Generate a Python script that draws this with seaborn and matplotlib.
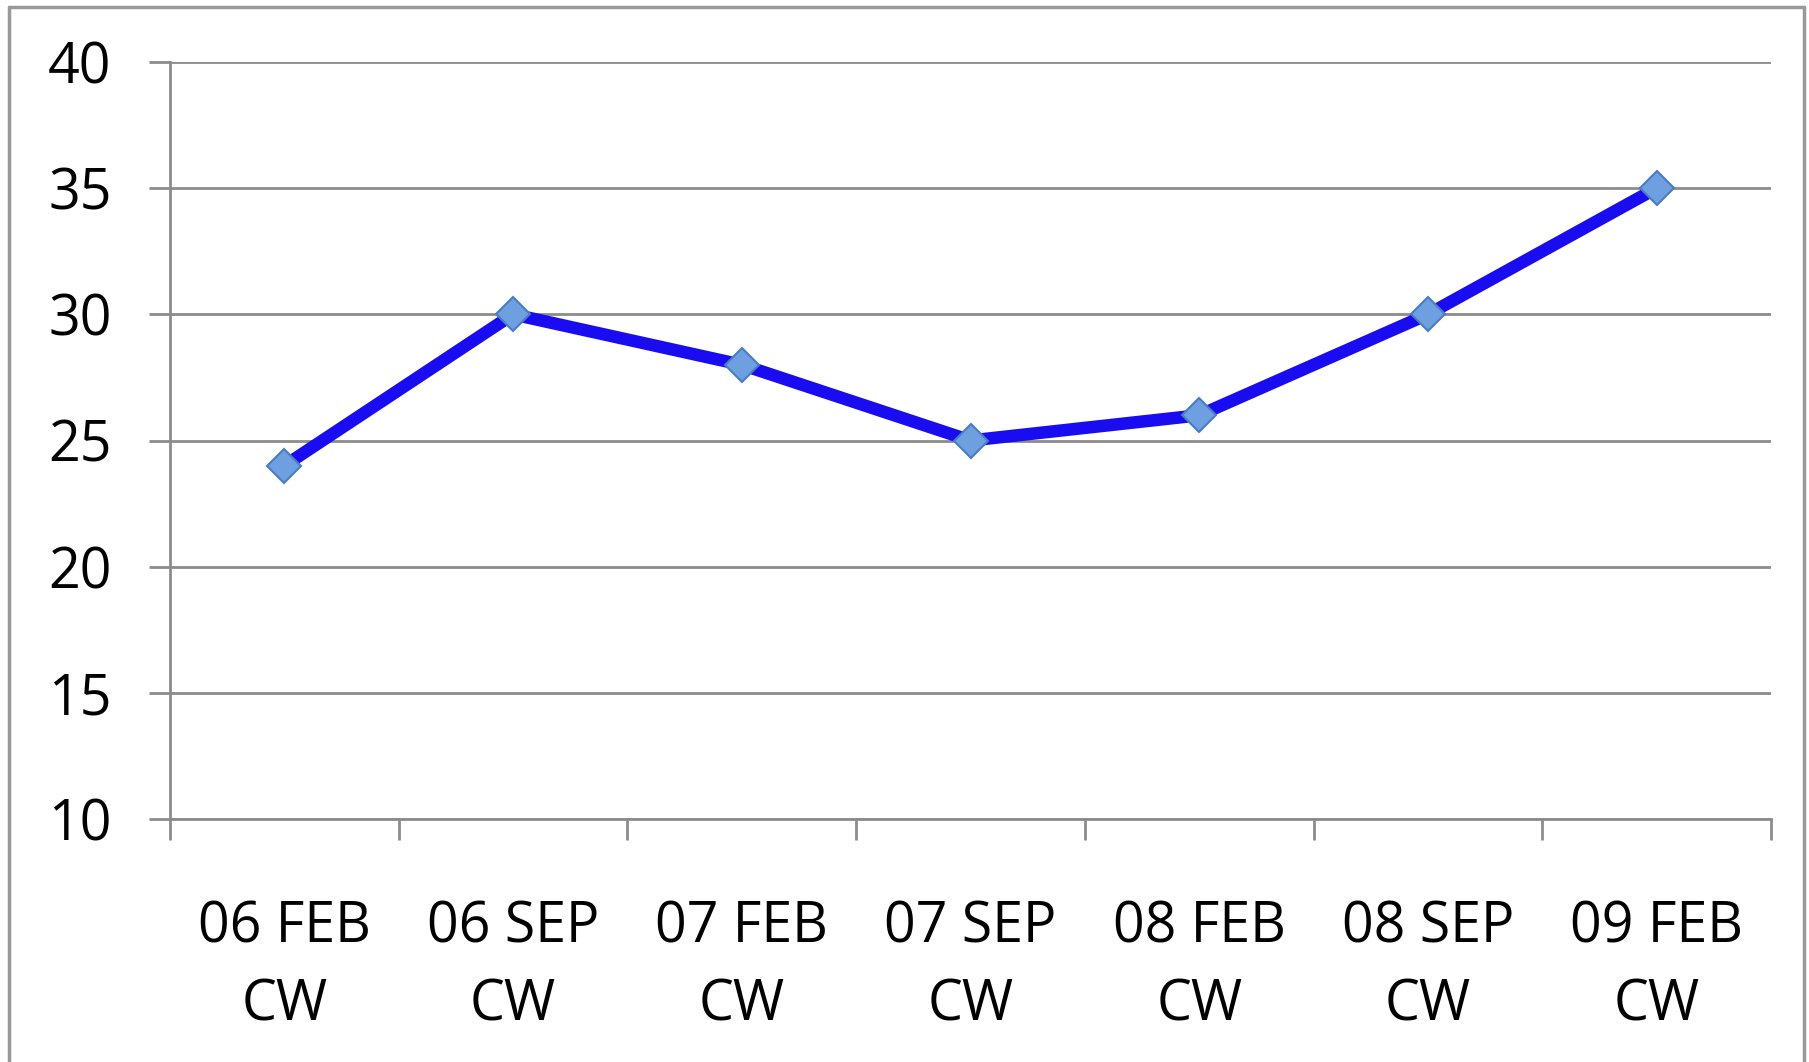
import matplotlib
matplotlib.use("Agg")
import matplotlib.pyplot as plt
import seaborn as sns
import pandas as pd
from matplotlib.lines import Line2D

categories = ["06 FEB\nCW", "06 SEP\nCW", "07 FEB\nCW", "07 SEP\nCW", "08 FEB\nCW", "08 SEP\nCW", "09 FEB\nCW"]
values = [24, 30, 28, 25, 26, 30, 35]
y_ticks = [10, 15, 20, 25, 30, 35, 40]

sns.set_theme(style="white")
plt.rcParams['font.family'] = ['Open Sans', 'DejaVu Sans']
plt.rcParams['text.color'] = 'black'
plt.rcParams['xtick.labelcolor'] = 'black'
plt.rcParams['ytick.labelcolor'] = 'black'

fig = plt.figure(figsize=(18.09, 10.62), dpi=100)
ax = fig.add_axes([170/1809, 1 - 819/1062, (1771-170)/1809, (819-62)/1062])

df = pd.DataFrame({"cat": categories, "val": values})
grid_c = "#8c8c8c"

sns.lineplot(data=df, x="cat", y="val", ax=ax, color="#1a0cf0", linewidth=9,
             marker="D", markersize=17, markerfacecolor="#6e9fe0",
             markeredgecolor="#4a7cc0", markeredgewidth=1.5, sort=False, zorder=3)

ax.set_xlim(-0.5, len(categories) - 0.5)
ax.set_ylim(10, 40)
ax.set_yticks(y_ticks)
ax.set_xticks(range(len(categories)))
ax.set_xticklabels(categories, fontsize=40, linespacing=1.48, color="black")
ax.set_xticks([i - 0.5 for i in range(len(categories) + 1)], minor=True)
ax.tick_params(axis="x", which="major", length=0, pad=58)
ax.tick_params(axis="x", which="minor", length=15, width=2, color=grid_c, direction="out", bottom=True)
ax.tick_params(axis="y", which="major", length=15, width=2, color=grid_c, direction="out", left=True,
               labelsize=40, pad=27, labelcolor="black")
ax.set_xlabel("")
ax.set_ylabel("")
ax.yaxis.grid(True, color=grid_c, linewidth=2)
ax.xaxis.grid(False)
for s in ["top", "right"]:
    ax.spines[s].set_visible(False)
for s in ["left", "bottom"]:
    ax.spines[s].set_color(grid_c)
    ax.spines[s].set_linewidth(2)

# outer frame
fc = "#999999"
fig.add_artist(Line2D([9/1809, 9/1809], [0, 1 - 7/1062], transform=fig.transFigure, color=fc, linewidth=2.5))
fig.add_artist(Line2D([9/1809, 1804/1809], [1 - 7/1062, 1 - 7/1062], transform=fig.transFigure, color=fc, linewidth=2.5))
fig.add_artist(Line2D([1804/1809, 1804/1809], [0, 1 - 7/1062], transform=fig.transFigure, color=fc, linewidth=2.5))

fig.savefig("out.png", dpi=100, facecolor="white")
